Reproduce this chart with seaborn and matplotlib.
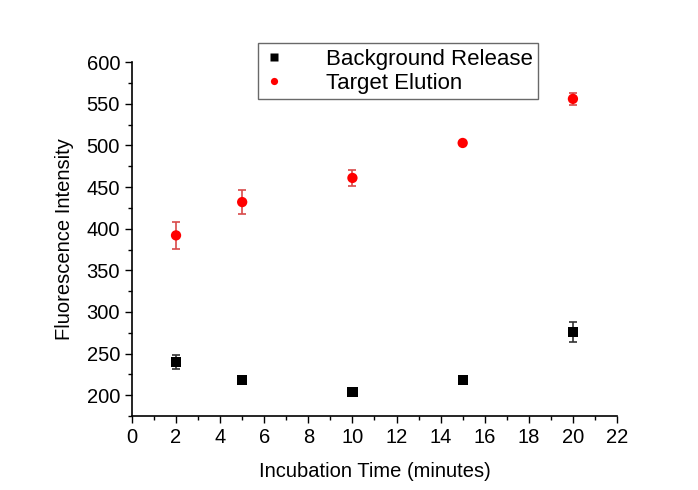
import pandas as pd
import matplotlib.pyplot as plt
import seaborn as sns
from matplotlib.ticker import MultipleLocator

# values
times = [2, 5, 10, 15, 20]
background = [240, 218, 204, 218, 276]
background_err = [8, 0, 4, 0, 12]
target = [392, 432, 461, 503, 556]
target_err = [16, 14, 10, 0, 7]

df = pd.DataFrame({
    "time": times * 2,
    "intensity": background + target,
    "err": background_err + target_err,
    "series": ["Background Release"] * 5 + ["Target Elution"] * 5,
})

sns.set_style("ticks")
plt.rcParams["font.family"] = ["Liberation Sans", "DejaVu Sans"]
plt.rcParams["text.color"] = "black"
plt.rcParams["axes.labelcolor"] = "black"
plt.rcParams["xtick.color"] = "black"
plt.rcParams["ytick.color"] = "black"

fig = plt.figure(figsize=(6.98, 4.9), dpi=100)
ax = fig.add_axes([0.189, 0.151, 0.695, 0.722])

colors = {"Background Release": "black", "Target Elution": "#ff0000"}
err_colors = {"Background Release": "#333333", "Target Elution": "#d84a4a"}

# error bars first
for name, g in df.groupby("series"):
    g = g[g["err"] > 0]
    ax.errorbar(g["time"], g["intensity"], yerr=g["err"], fmt="none",
                ecolor=err_colors[name], elinewidth=1.2, capsize=2.8, capthick=1.2, zorder=2)

sns.scatterplot(data=df, x="time", y="intensity", hue="series", style="series",
                palette=colors, markers={"Background Release": "s", "Target Elution": "o"},
                s=55, edgecolor="none", ax=ax, zorder=3)

ax.set_xlim(0, 22)
ax.set_ylim(175, 600)
ax.xaxis.set_major_locator(MultipleLocator(2))
ax.xaxis.set_minor_locator(MultipleLocator(1))
ax.yaxis.set_major_locator(MultipleLocator(50))
ax.yaxis.set_minor_locator(MultipleLocator(25))
ax.set_yticks(range(200, 601, 50))
ax.tick_params(axis="both", which="major", length=5, width=1, labelsize=14.5)
ax.tick_params(axis="both", which="minor", length=3, width=1)
for s in ["top", "right"]:
    ax.spines[s].set_visible(False)
for s in ["left", "bottom"]:
    ax.spines[s].set_linewidth(1.2)
    ax.spines[s].set_color("black")

ax.set_xlabel("Incubation Time (minutes)", fontsize=14.5, labelpad=11)
ax.set_ylabel("Fluorescence Intensity", fontsize=14.5, labelpad=9)

handles, labels = ax.get_legend_handles_labels()
ax.legend(handles, labels, loc="upper left", bbox_to_anchor=(258 / 698, 1 - 43 / 490),
          bbox_transform=fig.transFigure, borderaxespad=0, frameon=True, fancybox=False,
          edgecolor="#444444", fontsize=16, handlelength=0.9, handletextpad=1.9,
          borderpad=0.25, labelspacing=0.15, markerscale=0.7)
ax.get_legend().get_frame().set_linewidth(1.0)

fig.savefig("out.png", dpi=100)
